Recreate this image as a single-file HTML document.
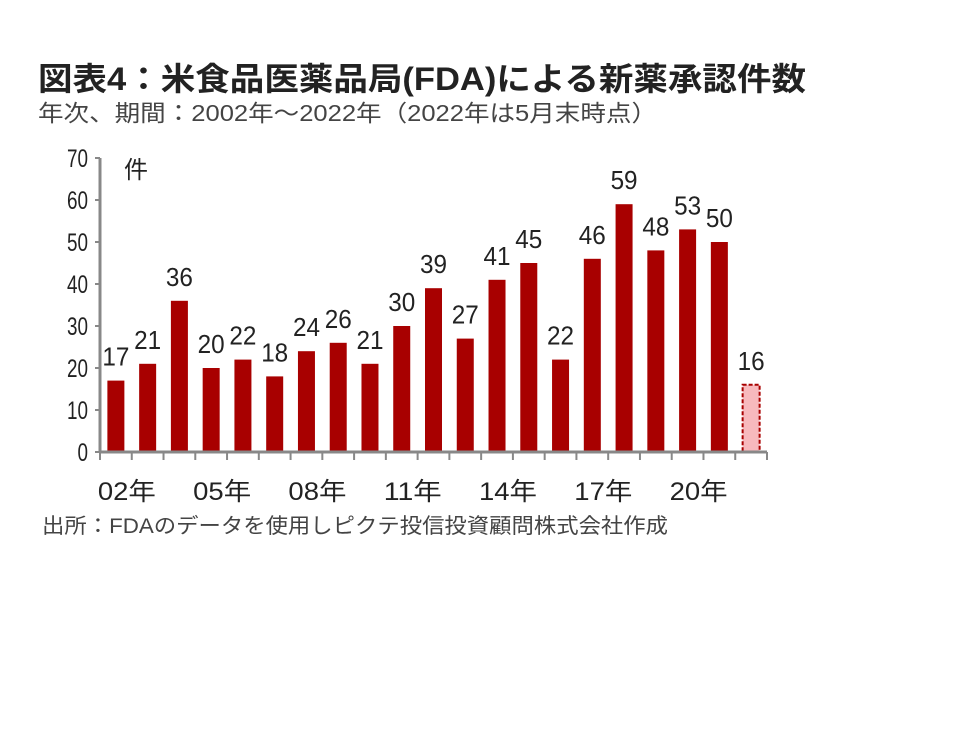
<!DOCTYPE html>
<html><head><meta charset="utf-8"><style>
html,body{margin:0;padding:0;background:#fff;}
svg{display:block;font-family:"Liberation Sans","Noto Sans CJK JP",sans-serif;}
</style></head><body>
<svg id="chart" width="964" height="752" viewBox="0 0 964 752">
<text x="38" y="90" font-size="32" font-weight="bold" fill="#222" textLength="768" lengthAdjust="spacingAndGlyphs">図表4：米食品医薬品局(FDA)による新薬承認件数</text>
<text x="38" y="121" font-size="23" fill="#444" textLength="619" lengthAdjust="spacingAndGlyphs">年次、期間：2002年～2022年（2022年は5月末時点）</text>
<text x="124" y="178" font-size="24" fill="#222">件</text>
<text x="42" y="533" font-size="21" fill="#444" textLength="626" lengthAdjust="spacingAndGlyphs">出所：FDAのデータを使用しピクテ投信投資顧問株式会社作成</text>
<g id="plot"></g>
</svg>
<script>
const categories=["2002","2003","2004","2005","2006","2007","2008","2009","2010","2011","2012","2013","2014","2015","2016","2017","2018","2019","2020","2021","2022"];
const values=[17,21,36,20,22,18,24,26,21,30,39,27,41,45,22,46,59,48,53,50,16];
const yTicks=[0,10,20,30,40,50,60,70];
const xLabels={"2002":"02年","2005":"05年","2008":"08年","2011":"11年","2014":"14年","2017":"17年","2020":"20年"};
const x0=100,x1=767,y0=452,yTop=158,yMax=70;
const step=(x1-x0)/categories.length;
const yS=v=>y0-(y0-yTop)*v/yMax;
const xC=i=>x0+step*(i+0.5);
const g=document.getElementById('plot');
const NS='http://www.w3.org/2000/svg';
function mk(t,a){const e=document.createElementNS(NS,t);for(const k in a)e.setAttribute(k,a[k]);g.appendChild(e);return e;}
yTicks.forEach(v=>{
  const s=String(v);
  const t=mk('text',{x:88,y:yS(v)+9,'font-size':25,'text-anchor':'end',fill:'#222',textLength:s.length*10.5,lengthAdjust:'spacingAndGlyphs'});
  
  
  t.textContent=s;
  const l=mk('line',{x1:95,x2:x0,y1:yS(v),y2:yS(v),stroke:'#888','stroke-width':2});
  
  
});
categories.forEach((c,i)=>{
  const v=values[i],last=i===categories.length-1;
  const bw=17;
  const r=mk('rect',{x:xC(i)-bw/2,y:yS(v),width:bw,height:y0-yS(v),fill:last?'#f7b9bd':'#a80000',stroke:last?'#a80000':'none','stroke-width':last?2:0,'stroke-dasharray':last?'4 2':''});
  
  
  const s=String(v);
  const t=mk('text',{x:xC(i),y:yS(v)-15,'font-size':26,'text-anchor':'middle',fill:'#222',textLength:s.length*13.5,lengthAdjust:'spacingAndGlyphs'});
  
  
  t.textContent=s;
  if(xLabels[c]){
    const xl=mk('text',{x:xC(i)-18,y:500,'font-size':25,fill:'#222',textLength:58,lengthAdjust:'spacingAndGlyphs'});
    
    
    xl.textContent=xLabels[c];
  }
});
for(let i=0;i<=categories.length;i++){
  const l=mk('line',{x1:x0+step*i,x2:x0+step*i,y1:y0,y2:y0+8,stroke:'#888','stroke-width':2});
  
  
}
const ya=mk('line',{x1:x0,x2:x0,y1:yTop,y2:y0,stroke:'#888','stroke-width':3});


const xa=mk('line',{x1:x0,x2:x1,y1:y0,y2:y0,stroke:'#888','stroke-width':3});


</script>
</body></html>
